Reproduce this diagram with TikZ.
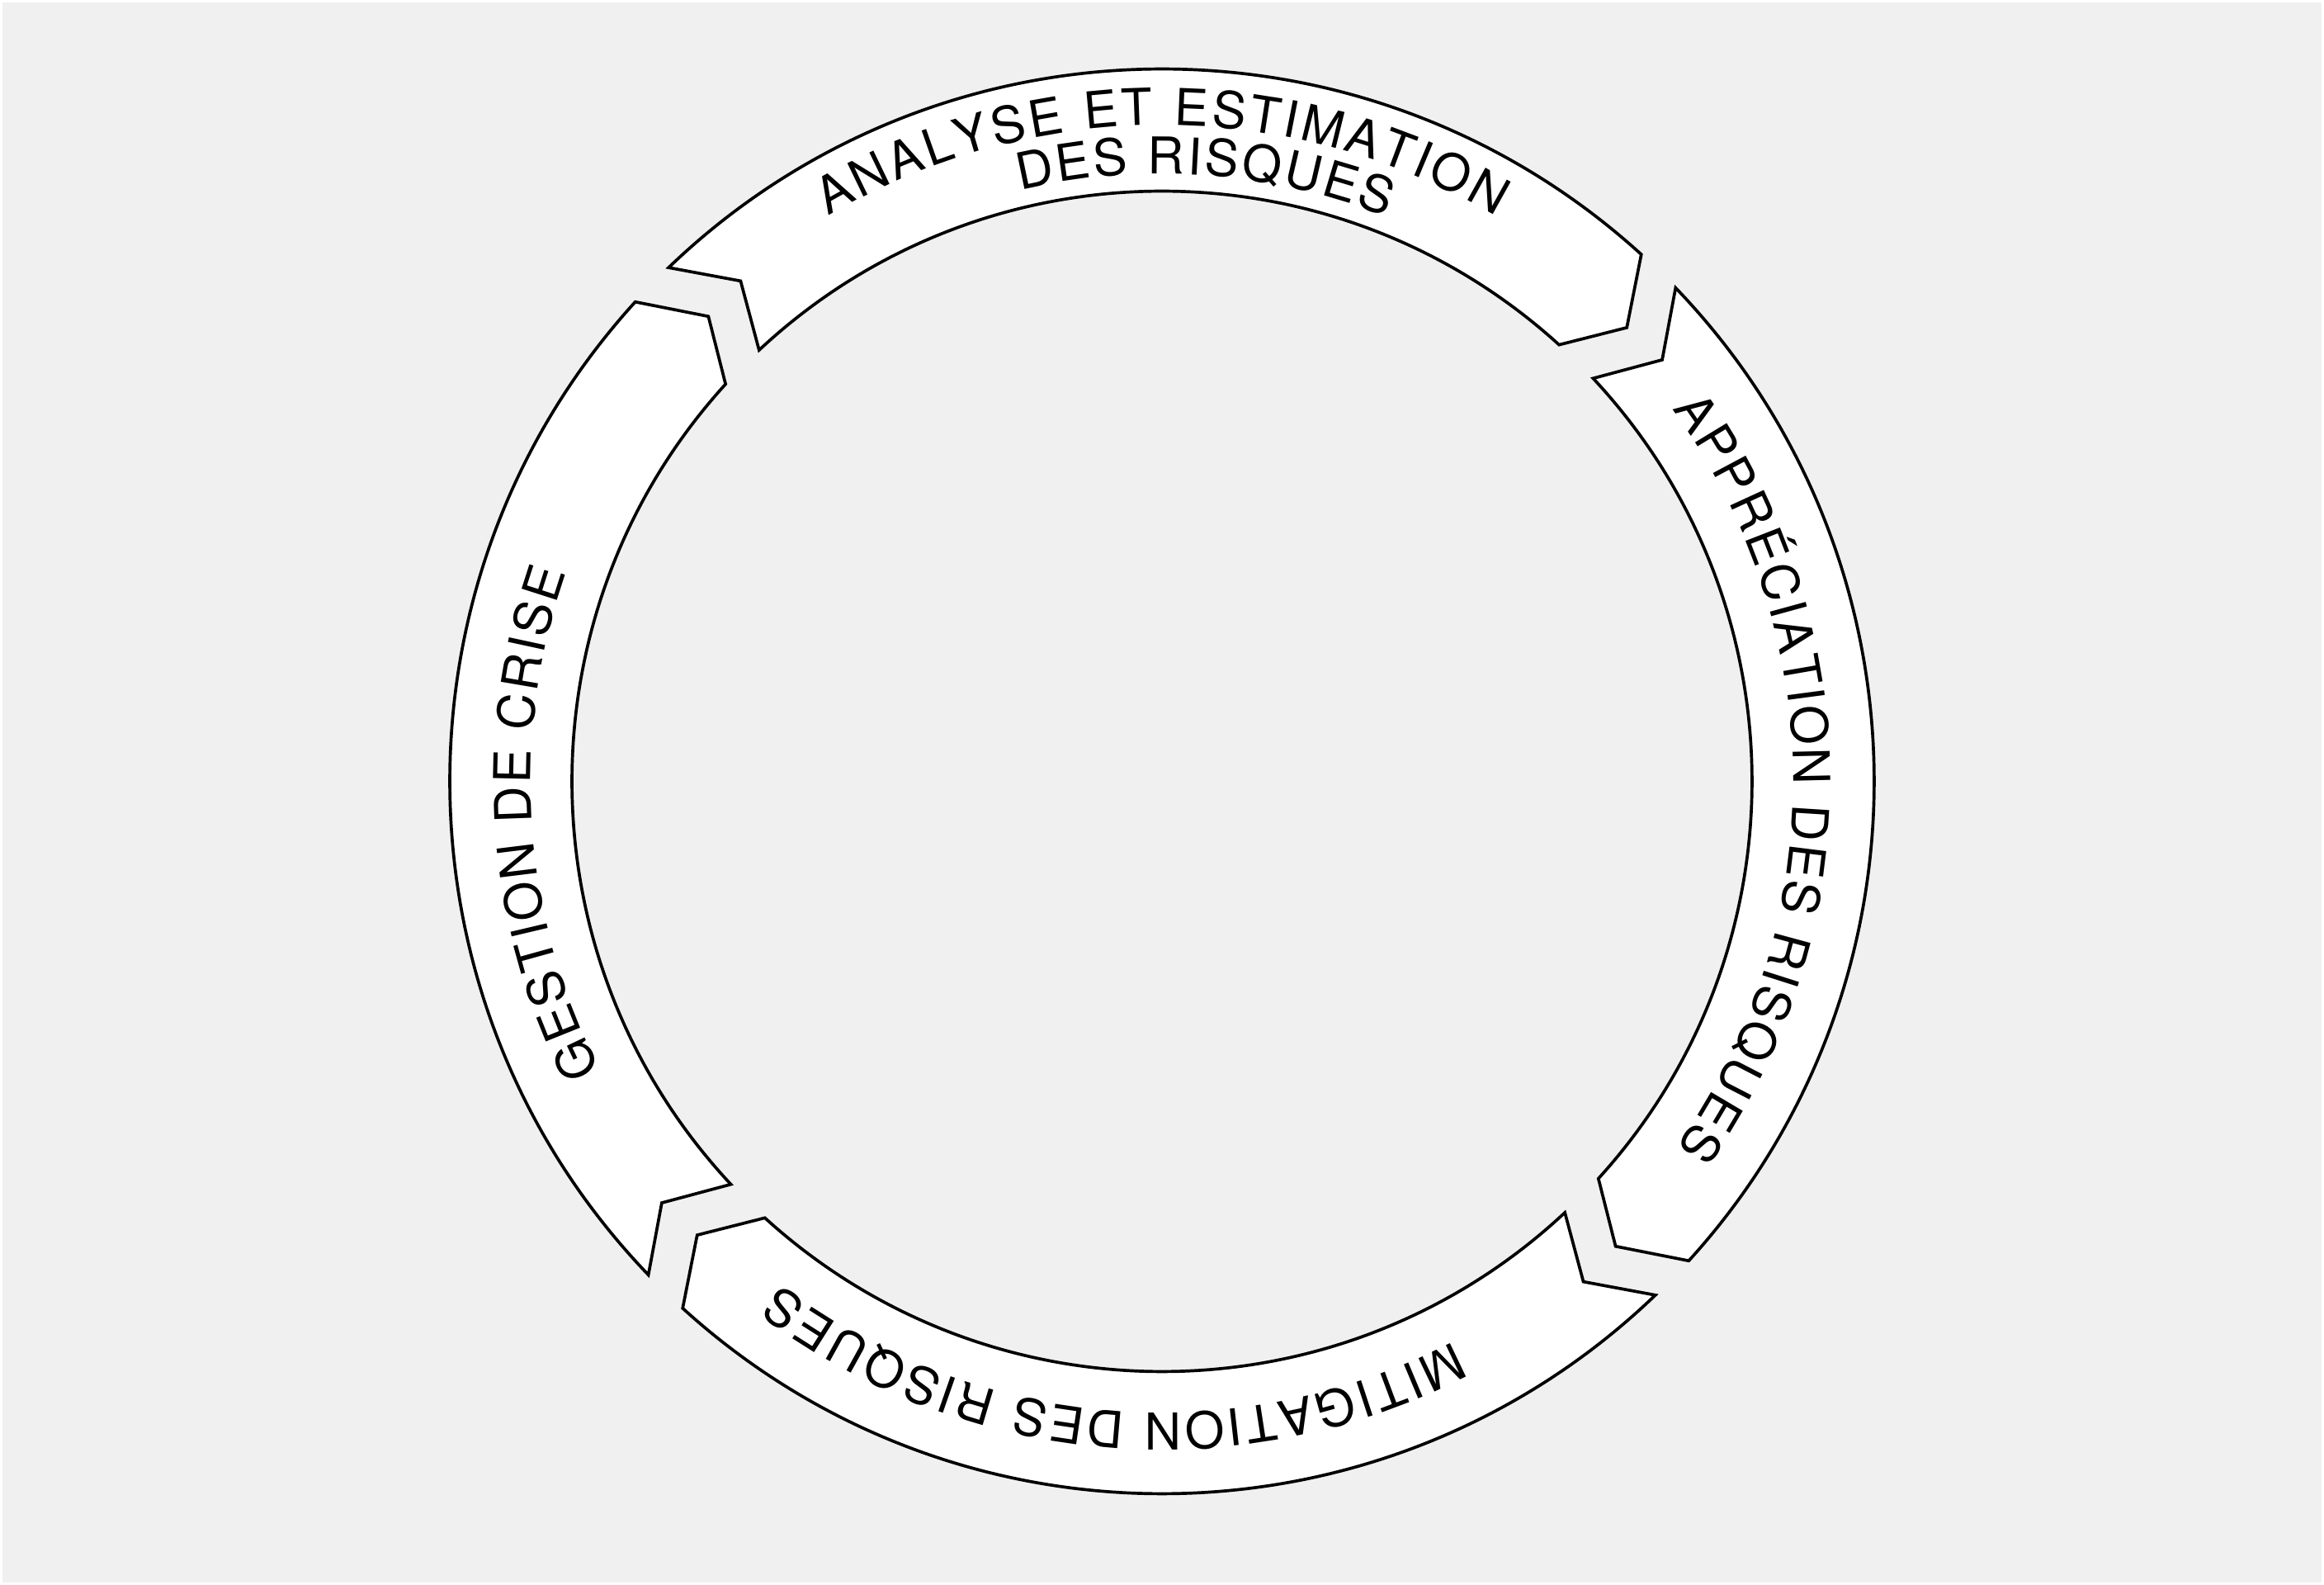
\documentclass[tikz,border=0pt]{standalone}
\usepackage{fontspec}
\newfontfamily\labelfont{TeX Gyre Heros}
\usetikzlibrary{calc,decorations.text}
\definecolor{bggrey}{HTML}{EFF0EF}

\begin{document}
\begin{tikzpicture}
        \tikzstyle{band} = [draw=black, fill=white, line width=1.05pt, line join=miter]
        \tikzstyle{label} = [decorate, decoration={text along path, text align={fit to path}, #1}]
        \def\ro{8.63}
        \def\ri{7.15}
        \def\rt{7.87}

        % page and grey ground
        \fill[white] (-14.08,-9.735) rectangle (14.08,9.465);
        \fill[bggrey] (-14.05,-9.705) rectangle (14.05,9.435);

        % the four arrows of the cycle, clockwise
        \foreach \a/\b/\n in {137.7/47.7/top, 47.7/-42.3/right, -42.3/-132.3/bottom, -132.3/-222.3/left} {
          \coordinate (\n-notch) at ($({\a-3.4}:\rt)+({\a-90}:0.58)$);
          \coordinate (\n-tip) at ({\b-3.4}:\rt);
          \draw[band] ({\a-3.85}:\ro) arc[start angle=\a-3.85, end angle=\b, radius=\ro]
            -- (\n-tip) -- (\b:\ri) arc[start angle=\b, end angle=\a-4.64, radius=\ri]
            -- (\n-notch) -- cycle;
        }

        % texts, spread over their arcs
        \path[label={text={|\labelfont\fontsize{17.5}{17.5}\selectfont|ANALYSE ET ESTIMATION}}]
          (120.6:7.95) arc[start angle=120.6, end angle=59.4, radius=7.95];
        \path[label={text={|\labelfont\fontsize{17.5}{17.5}\selectfont|DES RISQUES}}]
          (103.5:7.36) arc[start angle=103.5, end angle=68.3, radius=7.36];
        \path[label={text={|\labelfont\fontsize{17.5}{17.5}\selectfont|APPRÉCIATION DES RISQUES}}]
          (36.1:7.65) arc[start angle=36.1, end angle=-35.4, radius=7.65];
        \path[label={text={|\labelfont\fontsize{17.5}{17.5}\selectfont|MITIGATION DES RISQUES}}]
          (-62.5:7.65) arc[start angle=-62.5, end angle=-127.2, radius=7.65];
        \path[label={text={|\labelfont\fontsize{17.5}{17.5}\selectfont|GESTION DE CRISE}}]
          (207.2:7.65) arc[start angle=207.2, end angle=160.7, radius=7.65];
      \end{tikzpicture}
\end{document}
